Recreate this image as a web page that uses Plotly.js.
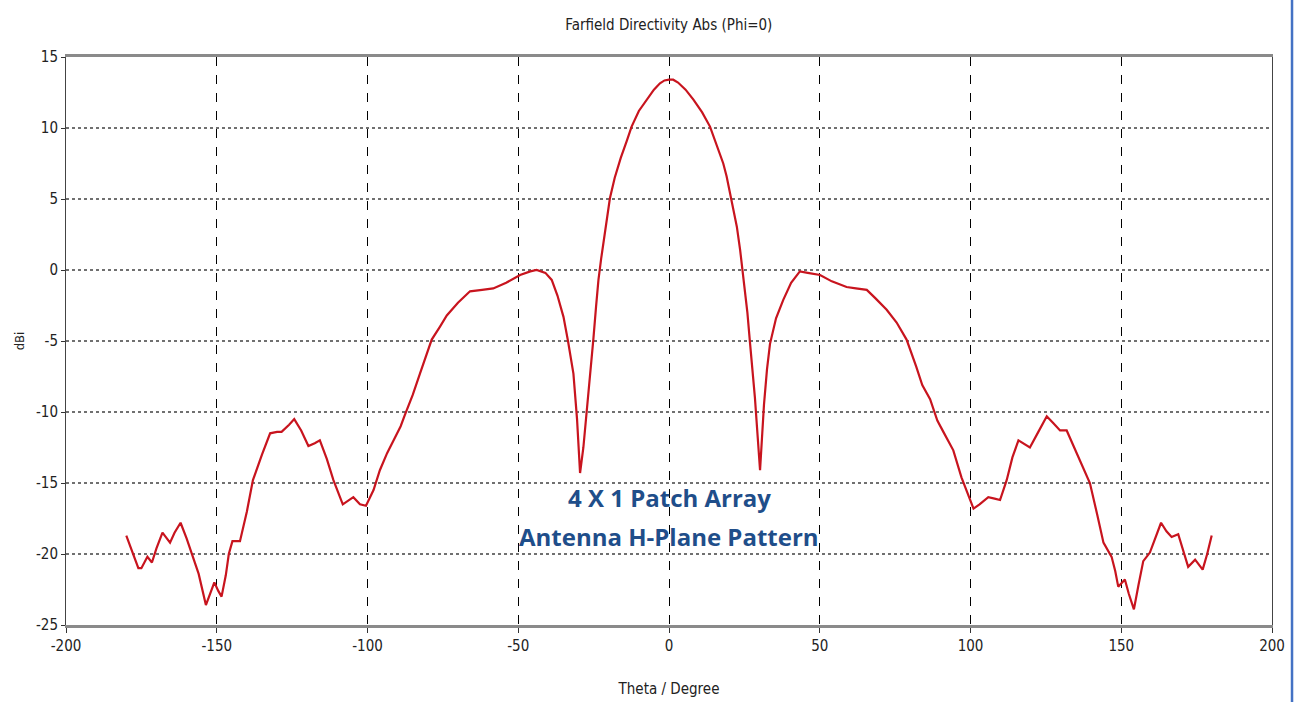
<!DOCTYPE html>
<html>
<head>
<meta charset="utf-8">
<script src="https://cdn.plot.ly/plotly-3.0.1.min.js"></script>
<style>html,body{margin:0;padding:0;background:#fff;}#chart{width:1295px;height:702px;}</style>
</head>
<body>
<div id="chart"></div>
<script>
const chartTitle = "Farfield Directivity Abs (Phi=0)";
const xTitle = "Theta / Degree";
const yTitle = "dBi";
const noteLines = ["4 X 1 Patch Array", "Antenna H-Plane Pattern"];

const theta = [
  -180,-178,-176,-175,-173,-171.5,-170,-168,-165.5,-164,-162,-160,-158,-156,-153.6,-152,-150.8,-149.5,-148.4,-147,-146,-144.8,-142.3,-140,-138,-135,-132.3,-130,-128.5,-126,-124.3,-122,-119.6,-117.5,-115.8,-113.5,-111.3,-108.2,-106,-104.7,-102.5,-100.5,-98,-95.9,-93.5,-91.4,-89,-87.6,-85,-82.6,-80,-78.7,-76,-73.7,-70,-66,-62,-58.3,-54,-49.4,-46,-43.9,-41,-38.9,-37,-35,-33.5,-31.7,-30.5,-29.5,-28.4,-27.3,-26,-25.1,-24.2,-23.4,-22.5,-21.5,-20.5,-19.6,-18,-16,-14,-12.4,-10,-7.4,-5,-3,-1.5,0,
  1.4,3,5.5,8.1,11,13.6,15,16.5,18,19.1,20.6,22.5,23.6,24.6,26,26.9,28.5,30.2,31.5,32.5,33.5,35.5,37.9,40.5,43.4,46,50.1,54,58.9,62,65.6,68.5,72.2,75.5,78.8,82,84,86.6,89,91,94.3,97,99.8,101,103,105.9,108,109.8,112,113.9,115.9,118,119.7,122.5,125.3,127.5,129.7,131.9,135.2,137.5,139.6,142,144.1,146.8,148,149,151.2,152.5,154.2,155.7,157.3,159.5,161.5,163.2,165,166.7,168.9,170.5,172.2,174.5,177,178.5,180
];
const dbi = [
  -18.7,-19.8,-21.0,-21.0,-20.2,-20.6,-19.6,-18.5,-19.2,-18.5,-17.8,-18.9,-20.2,-21.4,-23.6,-22.7,-22.0,-22.6,-23.0,-21.5,-20.0,-19.1,-19.1,-17.0,-14.8,-13.0,-11.5,-11.4,-11.4,-10.9,-10.5,-11.3,-12.4,-12.2,-12.0,-13.3,-14.8,-16.5,-16.2,-16.0,-16.5,-16.6,-15.5,-14.1,-12.9,-12.0,-11.0,-10.2,-8.8,-7.3,-5.8,-4.9,-4.0,-3.2,-2.3,-1.5,-1.4,-1.3,-0.9,-0.35,-0.1,0.0,-0.2,-0.7,-1.8,-3.3,-5.0,-7.3,-10.5,-14.3,-12.5,-10.1,-7.3,-4.9,-2.6,-0.7,0.8,2.2,3.7,5.05,6.5,7.9,9.1,10.1,11.2,12.0,12.7,13.15,13.35,13.4,
  13.4,13.2,12.7,12.0,11.1,10.1,9.3,8.5,7.5,6.6,5.0,3.05,1.4,-0.5,-3.0,-5.2,-9.0,-14.1,-9.5,-7.0,-5.2,-3.4,-2.1,-0.9,-0.1,-0.2,-0.35,-0.8,-1.2,-1.3,-1.4,-2.0,-2.8,-3.7,-4.9,-6.8,-8.1,-9.1,-10.6,-11.4,-12.7,-14.6,-16.1,-16.8,-16.5,-16.0,-16.1,-16.2,-14.8,-13.2,-12.0,-12.3,-12.5,-11.4,-10.3,-10.8,-11.3,-11.3,-12.9,-13.9,-15.0,-17.2,-19.2,-20.2,-21.2,-22.3,-21.8,-22.8,-23.9,-22.2,-20.5,-19.9,-18.7,-17.8,-18.4,-18.8,-18.6,-19.8,-20.9,-20.4,-21.1,-20.0,-18.7
];
const xTicks = [-200,-150,-100,-50,0,50,100,150,200];
const yTicks = [-25,-20,-15,-10,-5,0,5,10,15];

const tickFont = {family: "'Liberation Sans Narrow','DejaVu Sans Condensed','Liberation Sans',sans-serif", size: 15, color: "#222"};

const trace = {
  x: theta, y: dbi, type: "scatter", mode: "lines",
  line: {color: "#C8141E", width: 2.2}, hoverinfo: "x+y"
};

const layout = {
  width: 1295, height: 702,
  margin: {l: 66, r: 23, t: 57, b: 77, pad: 0},
  paper_bgcolor: "#ffffff", plot_bgcolor: "#ffffff",
  showlegend: false,
  title: {text: chartTitle, x: 0.5165, xanchor: "center", y: 0.965, yanchor: "middle",
          font: {family: tickFont.family, size: 15, color: "#222"}},
  xaxis: {
    range: [-200, 200], tickvals: xTicks, ticktext: xTicks.map(String),
    showgrid: true, gridcolor: "#000", gridwidth: 1, griddash: "dash",
    zeroline: false, showline: true, linecolor: "#8a8a8a", linewidth: 3, mirror: true,
    ticks: "outside", ticklen: 5, tickcolor: "#333", tickfont: tickFont,
    title: {text: xTitle, font: {family: tickFont.family, size: 15, color: "#222"}, standoff: 30}
  },
  yaxis: {
    range: [-25, 15], tickvals: yTicks, ticktext: yTicks.map(String),
    showgrid: true, gridcolor: "#707070", gridwidth: 2.5, griddash: "dot",
    zeroline: false, showline: true, linecolor: "#444", linewidth: 1, mirror: true,
    ticks: "outside", ticklen: 4, tickcolor: "#333", tickfont: tickFont,
    title: {text: yTitle, font: {family: tickFont.family, size: 13, color: "#222"}, standoff: 8}
  },
  annotations: [
    {x: 0, y: -16.0, xref: "x", yref: "y", text: "<b>" + noteLines[0] + "</b>", showarrow: false,
     font: {family: "'Open Sans','Liberation Sans',sans-serif", size: 24, color: "#1F4E8A"}, xanchor: "center", yanchor: "middle"},
    {x: 0, y: -18.8, xref: "x", yref: "y", text: "<b>" + noteLines[1] + "</b>", showarrow: false,
     font: {family: "'Open Sans','Liberation Sans',sans-serif", size: 24, color: "#1F4E8A"}, xanchor: "center", yanchor: "middle"}
  ],
  shapes: [
    {type: "line", xref: "paper", yref: "paper", x0: 1.0166, x1: 1.0166, y0: -0.2, y1: 1.2,
     line: {color: "#4472C4", width: 2.5}}
  ]
};

Plotly.newPlot("chart", [trace], layout, {displayModeBar: false, staticPlot: true});
</script>
</body>
</html>
